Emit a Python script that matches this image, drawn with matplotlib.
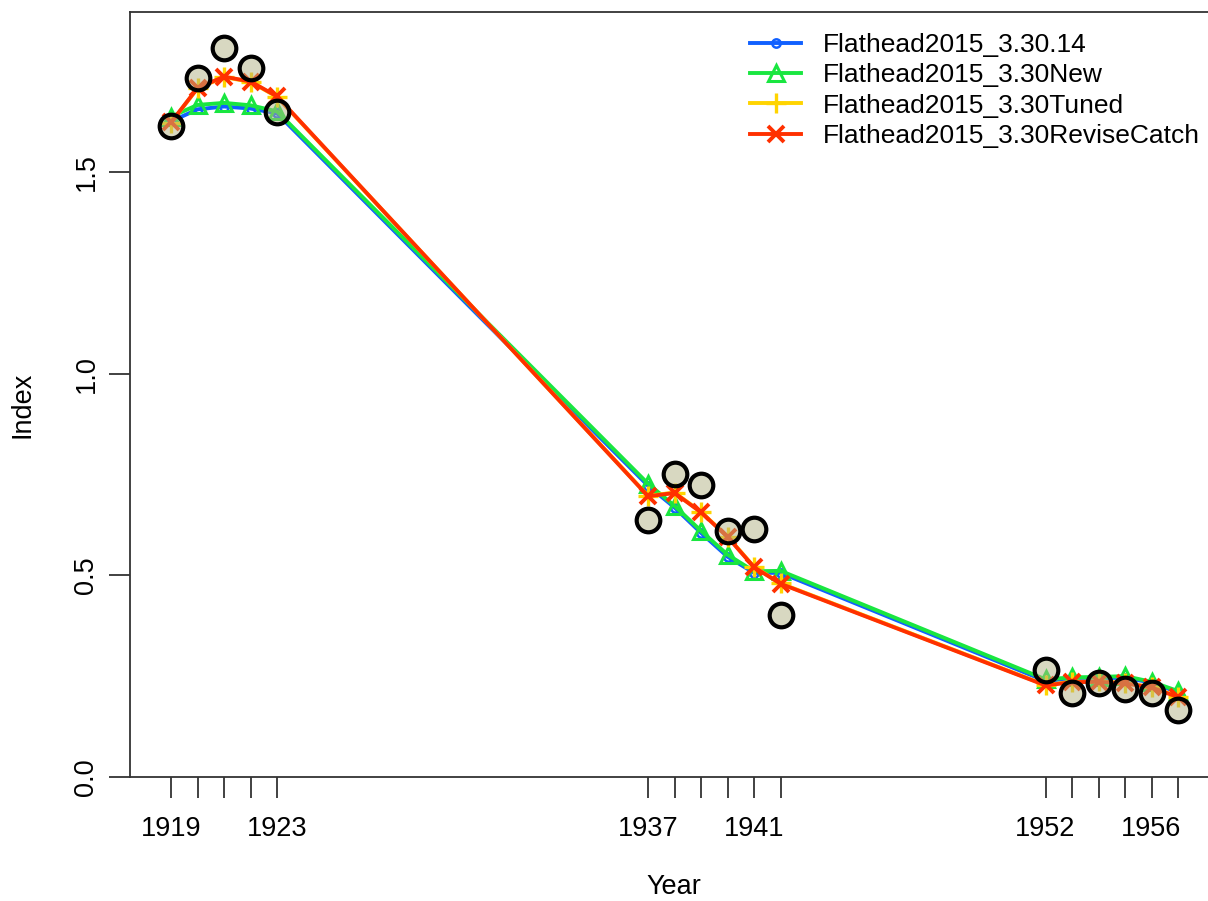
import matplotlib.pyplot as plt

plt.rcParams['font.family'] = ['Liberation Sans', 'DejaVu Sans']

years = [1919, 1920, 1921, 1922, 1923,
         1937, 1938, 1939, 1940, 1941, 1942,
         1952, 1953, 1954, 1955, 1956, 1957]

obs = [1.614, 1.733, 1.806, 1.758, 1.649,
       0.636, 0.752, 0.723, 0.611, 0.615, 0.401,
       0.265, 0.207, 0.232, 0.217, 0.209, 0.167]

fit_314 = [1.625, 1.655, 1.662, 1.657, 1.645,
           0.722, 0.668, 0.605, 0.546, 0.506, 0.506,
           0.238, 0.244, 0.245, 0.246, 0.234, 0.210]
fit_new = [1.637, 1.666, 1.671, 1.665, 1.650,
           0.727, 0.672, 0.610, 0.551, 0.510, 0.511,
           0.242, 0.247, 0.248, 0.250, 0.236, 0.213]
fit_tuned = [1.622, 1.707, 1.735, 1.723, 1.686,
             0.697, 0.705, 0.657, 0.596, 0.521, 0.480,
             0.228, 0.236, 0.237, 0.233, 0.223, 0.199]
fit_revise = [1.623, 1.708, 1.736, 1.724, 1.687,
              0.696, 0.704, 0.656, 0.595, 0.520, 0.479,
              0.227, 0.235, 0.236, 0.232, 0.222, 0.198]

labels = ['Flathead2015_3.30.14', 'Flathead2015_3.30New',
          'Flathead2015_3.30Tuned', 'Flathead2015_3.30ReviseCatch']
labelled_years = [1919, 1923, 1937, 1941, 1952, 1956]

fs = 19.5

fig = plt.figure(figsize=(12.08, 9.01), dpi=100)
ax = fig.add_axes([130 / 1208, 124 / 901, 1078 / 1208, 765 / 901])

styles = [
    dict(color='#1060ff', marker='o', ms=6, mfc='none', mew=1.8),
    dict(color='#19e640', marker='^', ms=11, mfc='none', mew=2.2),
    dict(color='#ffd400', marker='+', ms=14, mew=2.4),
    dict(color='#ff3000', marker='x', ms=11, mew=2.8),
]
for vals, lab, st in zip([fit_314, fit_new, fit_tuned, fit_revise], labels, styles):
    ax.plot(years, vals, lw=2.8, label=lab, **st)

# observed index: black ring, translucent khaki fill
ax.plot(years, obs, ls='none', marker='o', ms=17, mec='black', mew=3,
        mfc=(0.70, 0.70, 0.52, 0.5), zorder=5)

ax.set_xlim(1917.45, 1958.13)
ax.set_ylim(0, 1.05 * max(obs))

ax.set_xticks(years)
ax.set_xticklabels([str(y) if y in labelled_years else '' for y in years])
ax.set_yticks([0.0, 0.5, 1.0, 1.5])
ax.set_yticklabels(['0.0', '0.5', '1.0', '1.5'], rotation=90, va='center')

ax.tick_params(axis='both', length=15, width=1.3, color='#333333',
               labelsize=fs)
ax.tick_params(axis='x', pad=13)
ax.tick_params(axis='y', pad=7)
for side in ['left', 'bottom', 'top']:
    ax.spines[side].set_linewidth(1.3)
    ax.spines[side].set_color('#333333')
ax.spines['right'].set_visible(False)

fig.text(674 / 1208, 1 - 887 / 901, 'Year', fontsize=fs,
         ha='center', va='center')
fig.text(22 / 1208, 1 - 405 / 901, 'Index', fontsize=fs,
         ha='center', va='center', rotation=90)

fig.legend(loc='upper left', bbox_to_anchor=(750 / 1208, 1 - 33 / 901),
           frameon=False, fontsize=19, handlelength=1.95, handletextpad=0.8,
           labelspacing=0.24, borderpad=0, borderaxespad=0, numpoints=1)

fig.savefig('out.png', dpi=100)
